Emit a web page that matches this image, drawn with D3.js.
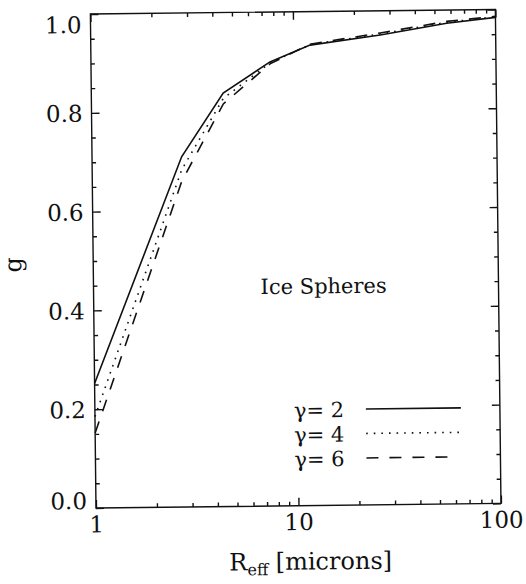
<!DOCTYPE html>
<meta charset="utf-8">
<head>
<style>
  body { margin: 0; background: #fff; }
  svg { display: block; }
  text { font-family: 'DejaVu Serif', serif; fill: #111; }
  .axis path, .axis line { stroke: #111; stroke-width: 1.4; }
  .axis text { font-family: 'DejaVu Serif', serif; font-size: 23px; fill: #111; }
  .curve { fill: none; stroke: #111; stroke-width: 1.6; }
</style>
</head>
<body>
<svg id="chart" width="526" height="584"></svg>

<script src="https://d3js.org/d3.v7.min.js"></script>
<script>

  // effective radius (microns) and asymmetry parameter g for each gamma
  var reff  = [1, 2.77, 4.48, 7.66, 12.1, 26.9, 57.4, 100];
  var gam2  = [0.252, 0.709, 0.837, 0.899, 0.932, 0.951, 0.973, 0.984];
  var gam4  = [0.185, 0.683, 0.826, 0.897, 0.933, 0.953, 0.975, 0.985];
  var gam6  = [0.152, 0.660, 0.815, 0.895, 0.934, 0.955, 0.977, 0.986];

  var seriesNames = ["\u03b3= 2", "\u03b3= 4", "\u03b3= 6"];
  var xMajor = [1, 10, 100];
  var yMajor = [0, 0.2, 0.4, 0.6, 0.8, 1.0];

  var w = 405, h = 494;
  var x0 = 96, y0 = 14;

  var svg = d3.select("#chart");
  // the scanned figure sits a little crooked, so tilt the whole plot
  var root = svg.append("g").attr("transform", "rotate(-0.65," + x0 + "," + (y0 + h) + ")");
  var plot = root.append("g").attr("transform", "translate(" + x0 + "," + y0 + ")");

  var x = d3.scaleLog().domain([1, 100]).range([0, w]);
  var y = d3.scaleLinear().domain([0, 1]).range([h, 0]);

  // minor ticks on the log axis: 1..9, 10..90, 100
  var xTicks = [];
  [1, 10].forEach(function (dec) {
    for (var k = 1; k < 10; k++) xTicks.push(k * dec);
  });
  xTicks.push(100);
  var yTicks = d3.range(0, 21).map(function (i) { return +(i * 0.05).toFixed(2); });

  function isXMajor(d) { return xMajor.indexOf(d) >= 0; }
  function isYMajor(d) { return yMajor.some(function (m) { return Math.abs(m - d) < 1e-6; }); }

  function fixTicks(sel, major, horiz, sign) {
    sel.selectAll(".tick line").each(function (d) {
      var len = major(d) ? 8 : 4;
      d3.select(this).attr(horiz ? "y2" : "x2", sign * len);
    });
    sel.select(".domain").remove();
  }

  var xb = plot.append("g").attr("class", "axis").attr("transform", "translate(0," + h + ")")
    .call(d3.axisBottom(x).tickValues(xTicks).tickSize(-8).tickPadding(8)
      .tickFormat(function (d) { return isXMajor(d) ? d3.format("d")(d) : ""; }));
  fixTicks(xb, isXMajor, true, -1);

  var xt = plot.append("g").attr("class", "axis")
    .call(d3.axisTop(x).tickValues(xTicks).tickSize(-8).tickFormat(""));
  fixTicks(xt, isXMajor, true, 1);

  var yl = plot.append("g").attr("class", "axis")
    .call(d3.axisLeft(y).tickValues(yTicks).tickSize(-8).tickPadding(9)
      .tickFormat(function (d) { return isYMajor(d) ? d3.format(".1f")(d) : ""; }));
  fixTicks(yl, isYMajor, false, 1);
  // end labels sit pulled in from the corners
  yl.selectAll(".tick text").attr("dy", function (d) {
    if (d === 1) return "0.8em";
    if (d === 0) return "0.02em";
    return "0.36em";
  });

  var yr = plot.append("g").attr("class", "axis").attr("transform", "translate(" + w + ",0)")
    .call(d3.axisRight(y).tickValues(yTicks).tickSize(-8).tickFormat(""));
  fixTicks(yr, isYMajor, false, -1);

  // frame
  plot.append("rect").attr("width", w).attr("height", h)
    .attr("fill", "none").attr("stroke", "#111").attr("stroke-width", 1.4);

  var dashes = [null, "1.6,6", "12,11"];
  var series = [gam2, gam4, gam6];

  var line = d3.line()
    .x(function (d) { return x(d[0]); })
    .y(function (d) { return y(d[1]); });

  series.forEach(function (vals, i) {
    plot.append("path")
      .attr("class", "curve")
      .attr("d", line(d3.zip(reff, vals)))
      .attr("stroke-dasharray", dashes[i])
      .attr("stroke-width", i === 1 ? 1.8 : 1.6);
  });

  plot.append("text")
    .attr("x", 167).attr("y", 282)
    .style("font-size", "21px")
    .text("Ice Spheres");

  // legend
  var leg = plot.append("g");
  seriesNames.forEach(function (name, i) {
    var ly = 398 + i * 24.5;
    leg.append("text")
      .attr("x", 199).attr("y", ly + 8)
      .style("font-size", "21px")
      .text(name);
    leg.append("line")
      .attr("x1", 271).attr("x2", i === 2 ? 356 : 366)
      .attr("y1", ly).attr("y2", ly)
      .attr("stroke", "#111").attr("stroke-width", 1.6)
      .attr("stroke-dasharray", dashes[i]);
  });

  // axis titles
  var xtitle = root.append("text")
    .attr("x", 310).attr("y", 572)
    .attr("text-anchor", "middle")
    .style("font-size", "24px");
  xtitle.append("tspan").text("R");
  xtitle.append("tspan").attr("dy", 5).style("font-size", "16px").text("eff");
  xtitle.append("tspan").attr("dy", -5).text(" [microns]");

  root.append("text")
    .attr("transform", "translate(24,264) rotate(-90)")
    .attr("text-anchor", "middle")
    .style("font-size", "24px")
    .text("g");

</script>
</body>
